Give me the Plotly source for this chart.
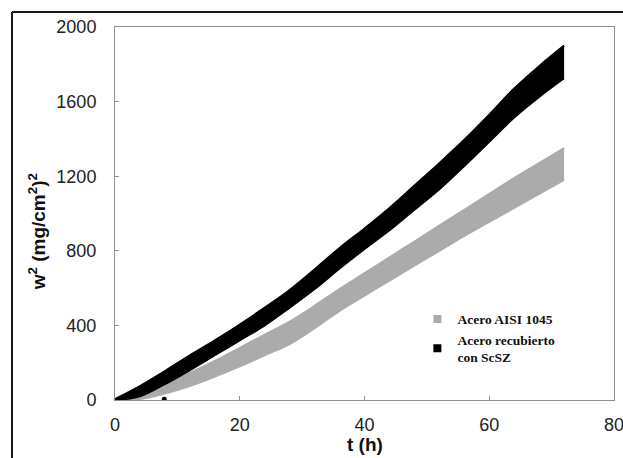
import plotly.graph_objects as go

hours = [0, 4, 8, 12, 16, 20, 24, 28, 32, 36, 40, 44, 48, 52, 56, 60, 64, 68, 72]

# Acero recubierto con ScSZ (black band), w^2 in (mg/cm^2)^2
coated_upper = [5, 75, 155, 240, 320, 405, 495, 590, 700, 815, 920, 1030, 1150, 1270, 1395, 1530, 1670, 1790, 1900]
coated_lower = [0, 20, 85, 160, 240, 320, 400, 495, 595, 705, 810, 910, 1020, 1130, 1255, 1385, 1515, 1625, 1725]

# Acero AISI 1045 (gray band)
steel_upper = [3, 30, 80, 145, 210, 280, 350, 420, 505, 595, 680, 765, 850, 935, 1020, 1105, 1190, 1270, 1350]
steel_lower = [0, 5, 35, 75, 125, 180, 240, 300, 385, 478, 560, 640, 720, 800, 880, 955, 1030, 1105, 1180]

# stray point near the axis
outlier_t = [7.9]
outlier_w = [4]

GRAY = "#ababab"
BLACK = "#000000"
AXIS_GRAY = "#8f8f8f"
SANS = "Liberation Sans, Arial"
SERIF = "Liberation Serif, Times New Roman"

fig = go.Figure()

# gray band (under)
fig.add_trace(go.Scatter(x=hours, y=steel_lower, mode="lines", line_shape="spline",
                         line=dict(color=GRAY, width=2), showlegend=False, hoverinfo="skip"))
fig.add_trace(go.Scatter(x=hours, y=steel_upper, mode="lines", fill="tonexty", line_shape="spline",
                         fillcolor=GRAY, line=dict(color=GRAY, width=2),
                         showlegend=False, hoverinfo="skip"))

# black band (over)
fig.add_trace(go.Scatter(x=hours, y=coated_lower, mode="lines", line_shape="spline",
                         line=dict(color=BLACK, width=2), showlegend=False, hoverinfo="skip"))
fig.add_trace(go.Scatter(x=hours, y=coated_upper, mode="lines", fill="tonexty", line_shape="spline",
                         fillcolor=BLACK, line=dict(color=BLACK, width=2),
                         showlegend=False, hoverinfo="skip"))

fig.add_trace(go.Scatter(x=outlier_t, y=outlier_w, mode="markers",
                         marker=dict(color=BLACK, size=5), showlegend=False))

# legend entries
fig.add_trace(go.Scatter(x=[None], y=[None], mode="markers", name="<b>Acero AISI 1045</b>",
                         marker=dict(symbol="square", size=8, color=GRAY)))
fig.add_trace(go.Scatter(x=[None], y=[None], mode="markers",
                         name="<b>Acero recubierto<br>con ScSZ</b>",
                         marker=dict(symbol="square", size=8, color=BLACK)))

axis_common = dict(showline=True, linecolor=AXIS_GRAY, linewidth=1, mirror=True,
                   ticks="inside", ticklen=4, tickcolor=AXIS_GRAY,
                   showgrid=False, zeroline=False, automargin=False,
                   ticklabeloverflow="allow",
                   tickfont=dict(family=SANS, size=18, color="#222"))

fig.update_xaxes(range=[0, 80], tickvals=[0, 20, 40, 60, 80], ticklabelstandoff=8,
                 **axis_common)
fig.update_yaxes(range=[0, 2000], tickvals=[0, 400, 800, 1200, 1600, 2000],
                 ticklabelstandoff=14, **axis_common)

# axis titles as annotations so they sit where the original puts them
fig.add_annotation(text="<b>t (h)</b>", xref="paper", yref="paper", x=0.5, y=-0.1206,
                   xanchor="center", yanchor="middle", showarrow=False,
                   font=dict(family=SANS, size=19, color="#111"))
fig.add_annotation(text="<b>w<sup>2</sup> (mg/cm<sup>2</sup>)<sup>2</sup></b>",
                   xref="paper", yref="paper", x=-0.156, y=0.45, textangle=-90,
                   xanchor="center", yanchor="middle",
                   showarrow=False, font=dict(family=SANS, size=19, color="#111"))

# outer frame (left and top edges only, image is cropped)
frame = dict(type="line", xref="paper", yref="paper", line=dict(color="#1a1a1a", width=2))
fig.add_shape(x0=-0.2064, x1=-0.2064, y0=1.0402, y1=-0.2, **frame)
fig.add_shape(x0=-0.2064, x1=1.03, y0=1.0402, y1=1.0402, **frame)

fig.update_layout(
    width=623, height=458,
    margin=dict(l=115, r=9, t=27, b=58),
    paper_bgcolor="white", plot_bgcolor="white",
    legend=dict(x=0.606, y=0.258, xanchor="left", yanchor="top", traceorder="normal",
                bgcolor="rgba(0,0,0,0)", tracegroupgap=0, itemwidth=30,
                font=dict(family=SERIF, size=13.5, color="#111")),
)

# drop the default 8px body margin so the figure fills the window exactly
fig.write_html("out.html", config={"displayModeBar": False},
               post_script="document.body.style.margin='0';")
